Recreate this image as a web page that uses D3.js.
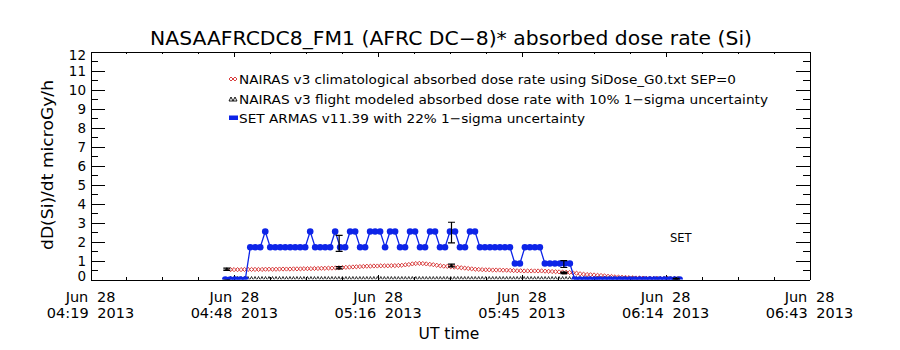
<!DOCTYPE html>
<html>
<head>
<meta charset="utf-8">
<script src="https://d3js.org/d3.v7.min.js"></script>
<style>
body { margin: 0; background: #fff; }
text { font-family: "DejaVu Sans", sans-serif; fill: #000; }
.axis path, .axis line { stroke: #000; stroke-width: 1; shape-rendering: crispEdges; }
</style>
</head>
<body>
<script>
var w = 900,
    h = 350;

// time axis: start / end of the plot window and the labelled ticks
var xStart = '2013-06-28 04:19:12',
    xEnd   = '2013-06-28 06:43:12';
var xTickTimes = ['2013-06-28 04:19:12', '2013-06-28 04:48:00', '2013-06-28 05:16:48',
                  '2013-06-28 05:45:36', '2013-06-28 06:14:24', '2013-06-28 06:43:12'];
var xTickLabels = [['Jun 28', '04:19 2013'], ['Jun 28', '04:48 2013'], ['Jun 28', '05:16 2013'],
                   ['Jun 28', '05:45 2013'], ['Jun 28', '06:14 2013'], ['Jun 28', '06:43 2013']];
var yTicks = [0, 1, 2, 3, 4, 5, 6, 7, 8, 9, 10, 11, 12];

// SET ARMAS v11.39, one sample per minute
var setStart = '2013-06-28 04:46:12',
    setStep = 60; // seconds
var setValues = [0, 0, 0, 0, 0,
                 1.70, 1.70, 1.70, 2.53, 1.70, 1.70, 1.70, 1.70, 1.70, 1.70, 1.70, 1.70,
                 2.53, 1.70, 1.70, 1.70, 1.70, 2.53, 1.70, 1.70, 2.53, 2.53, 1.70, 1.70,
                 2.53, 2.53, 2.53, 1.70, 2.53, 2.53, 1.70, 1.70, 2.53, 2.53, 1.70, 1.70,
                 2.53, 2.53, 1.70, 1.70, 2.53, 2.53, 1.70, 1.70, 2.53, 2.53, 1.70, 1.70,
                 1.70, 1.70, 1.70, 1.70, 1.70, 0.84, 0.84, 1.70, 1.70, 1.70, 1.70,
                 0.84, 0.84, 0.84, 0.84, 0.84, 0.84,
                 0, 0, 0, 0, 0, 0, 0, 0, 0, 0, 0, 0, 0, 0, 0, 0, 0, 0, 0, 0, 0, 0];

// NAIRAS v3 climatological dose rate, one sample every 42 s
var climStart = '2013-06-28 04:47:15',
    climStep = 42; // seconds
var climValues = [0.52, 0.52, 0.52, 0.52, 0.53, 0.53, 0.53, 0.53, 0.53, 0.53,
                  0.54, 0.54, 0.54, 0.54, 0.55, 0.55, 0.55, 0.55, 0.56, 0.56,
                  0.56, 0.57, 0.57, 0.57, 0.58, 0.58, 0.59, 0.59, 0.60, 0.60,
                  0.61, 0.62, 0.63, 0.64, 0.65, 0.66, 0.67, 0.68, 0.69, 0.70,
                  0.70, 0.71, 0.71, 0.72, 0.72, 0.72, 0.73, 0.73, 0.74, 0.75,
                  0.77, 0.79, 0.82, 0.84, 0.85, 0.84, 0.82, 0.80, 0.78, 0.75,
                  0.72, 0.70, 0.69, 0.67, 0.65, 0.64, 0.62, 0.60, 0.58, 0.56,
                  0.54, 0.53, 0.52, 0.51, 0.51, 0.50, 0.50, 0.50, 0.49, 0.49,
                  0.48, 0.47, 0.46, 0.46, 0.45, 0.45, 0.45, 0.45, 0.45, 0.45,
                  0.44, 0.43, 0.42, 0.41, 0.40, 0.39, 0.38, 0.37, 0.35, 0.33,
                  0.30, 0.28, 0.26, 0.25, 0.24, 0.22, 0.21, 0.19, 0.17, 0.16,
                  0.14, 0.13, 0.12, 0.11, 0.10, 0.09, 0.08, 0.08, 0.07, 0.06,
                  0.06, 0.05, 0.05, 0.04, 0.04, 0.04, 0.03, 0.03, 0.03];

// NAIRAS v3 flight modeled points (10% sigma) and SET averages (22% sigma)
var flightTimes = ['2013-06-28 04:46:30', '2013-06-28 05:09:00', '2013-06-28 05:31:30',
                   '2013-06-28 05:54:00', '2013-06-28 06:16:30'];
var flightValues = [0.54, 0.62, 0.74, 0.35, 0.05];
var setErrValues = [0, 1.90, 2.47, 0.81, 0];
var flightSigma = 0.10,
    setSigma = 0.22;

var legendLabels = ['NAIRAS v3 climatological absorbed dose rate using SiDose_G0.txt SEP=0',
                    'NAIRAS v3 flight modeled absorbed dose rate with 10% 1\u2212sigma uncertainty',
                    'SET ARMAS v11.39 with 22% 1\u2212sigma uncertainty'];

var red = '#d42a2a',
    blue = '#0d24e8';

var parseT = d3.utcParse('%Y-%m-%d %H:%M:%S');

var setData = setValues.map(function(v, i) {
  return { t: new Date(parseT(setStart).getTime() + i * setStep * 1000), v: v };
});
var climData = climValues.map(function(v, i) {
  return { t: new Date(parseT(climStart).getTime() + i * climStep * 1000), v: v };
});
var flightData = flightTimes.map(function(t, i) {
  return { t: parseT(t), v: flightValues[i], s: setErrValues[i] };
});

var svg = d3.select('body')
            .append('svg')
            .attr('width', w)
            .attr('height', h);

svg.append('rect').attr('width', w).attr('height', h).attr('fill', '#fff');

var pLeft = 90.5, pRight = 809.5, pTop = 51.5, pBottom = 279.5;

var x = d3.scaleUtc()
          .domain([parseT(xStart), parseT(xEnd)])
          .range([pLeft, pRight]);

var y = d3.scaleLinear()
          .domain([0, 12])
          .range([pBottom, pTop]);

var majorX = xTickTimes.map(parseT);
var minorX = [];
for (var i = 0; i < majorX.length - 1; i++) {
  var a = majorX[i].getTime(), b = majorX[i + 1].getTime();
  for (var j = 1; j < 4; j++) minorX.push(new Date(a + (b - a) * j / 4));
}
var minorY = d3.range(0.5, 12, 1);

// box with ticks on all four sides
function addAxis(gen, tx, ty) {
  svg.append('g').attr('class', 'axis')
     .attr('transform', 'translate(' + tx + ',' + ty + ')')
     .call(gen);
}
addAxis(d3.axisBottom(x).tickValues(majorX).tickSizeInner(-5).tickSizeOuter(0).tickFormat(''), 0, pBottom);
addAxis(d3.axisBottom(x).tickValues(minorX).tickSizeInner(-2.5).tickSizeOuter(0).tickFormat(''), 0, pBottom);
addAxis(d3.axisTop(x).tickValues(majorX).tickSizeInner(-5).tickSizeOuter(0).tickFormat(''), 0, pTop);
addAxis(d3.axisTop(x).tickValues(minorX).tickSizeInner(-2.5).tickSizeOuter(0).tickFormat(''), 0, pTop);
addAxis(d3.axisLeft(y).tickValues(yTicks).tickSizeInner(-14).tickSizeOuter(0).tickFormat(''), pLeft, 0);
addAxis(d3.axisLeft(y).tickValues(minorY).tickSizeInner(-7).tickSizeOuter(0).tickFormat(''), pLeft, 0);
addAxis(d3.axisRight(y).tickValues(yTicks).tickSizeInner(-14).tickSizeOuter(0).tickFormat(''), pRight, 0);
addAxis(d3.axisRight(y).tickValues(minorY).tickSizeInner(-7).tickSizeOuter(0).tickFormat(''), pRight, 0);
svg.selectAll('.axis text').remove();

// y tick labels (end labels pulled inside the box like the original)
svg.selectAll('text.ylab')
   .data(yTicks)
   .enter()
   .append('text')
   .attr('class', 'ylab')
   .attr('x', 86)
   .attr('y', function(d) {
      var off = d === 12 ? 3.5 : (d === 0 ? -3.5 : 0);
      return y(d) + off + 5;
   })
   .attr('text-anchor', 'end')
   .style('font-size', '13.5px')
   .text(function(d) { return d; });

// x tick labels, two lines each
var xl = svg.selectAll('text.xlab')
            .data(majorX)
            .enter()
            .append('text')
            .attr('class', 'xlab')
            .attr('text-anchor', 'middle')
            .style('font-size', '14.5px')
            .style('word-spacing', '4px');
xl.append('tspan')
  .attr('x', function(d) { return x(d); })
  .attr('y', 302)
  .text(function(d, i) { return xTickLabels[i][0]; });
xl.append('tspan')
  .attr('x', function(d) { return x(d); })
  .attr('y', 318)
  .text(function(d, i) { return xTickLabels[i][1]; });

// titles
svg.append('text')
   .attr('x', 150).attr('y', 45)
   .attr('textLength', 602).attr('lengthAdjust', 'spacingAndGlyphs')
   .style('font-size', '19px')
   .text('NASAAFRCDC8_FM1 (AFRC DC\u22128)* absorbed dose rate (Si)');

svg.append('text')
   .attr('x', 449).attr('y', 339)
   .attr('text-anchor', 'middle')
   .style('font-size', '15.5px')
   .text('UT time');

svg.append('text')
   .attr('transform', 'translate(53,165) rotate(-90)')
   .attr('text-anchor', 'middle')
   .attr('textLength', 170).attr('lengthAdjust', 'spacingAndGlyphs')
   .style('font-size', '15px')
   .text('dD(Si)/dt microGy/h');

// plot area clip
svg.append('clipPath').attr('id', 'clip')
   .append('rect')
   .attr('x', pLeft).attr('y', pTop)
   .attr('width', pRight - pLeft).attr('height', pBottom - pTop);

var plot = svg.append('g').attr('clip-path', 'url(#clip)');

// flight model triangles sitting on the zero line, at the NAIRAS cadence
plot.selectAll('path.tri0')
    .data(climData)
    .enter()
    .append('path')
    .attr('class', 'tri0')
    .attr('d', function(d) {
       var cx = x(d.t), cy = y(0);
       return 'M' + (cx - 1.5) + ',' + cy + 'L' + cx + ',' + (cy - 3) + 'L' + (cx + 1.5) + ',' + cy;
    })
    .attr('fill', 'none')
    .attr('stroke', '#000')
    .attr('stroke-width', 0.8);

// NAIRAS climatological diamonds
plot.selectAll('path.clim')
    .data(climData)
    .enter()
    .append('path')
    .attr('class', 'clim')
    .attr('d', function(d) {
       var cx = x(d.t), cy = y(d.v), r = 2.1;
       return 'M' + cx + ',' + (cy - r) + 'L' + (cx + r) + ',' + cy + 'L' + cx + ',' + (cy + r) + 'L' + (cx - r) + ',' + cy + 'Z';
    })
    .attr('fill', 'none')
    .attr('stroke', red)
    .attr('stroke-width', 0.9);

// SET ARMAS line + filled circles
var line = d3.line()
             .x(function(d) { return x(d.t); })
             .y(function(d) { return y(d.v); });

plot.append('path')
    .datum(setData)
    .attr('d', line)
    .attr('fill', 'none')
    .attr('stroke', blue)
    .attr('stroke-width', 1.3);

plot.selectAll('circle.set')
    .data(setData)
    .enter()
    .append('circle')
    .attr('class', 'set')
    .attr('cx', function(d) { return x(d.t); })
    .attr('cy', function(d) { return y(d.v); })
    .attr('r', 3.3)
    .attr('fill', blue);

// error bars with caps
function errBar(cx, v, sig, half) {
  var y1 = y(v * (1 - sig)), y2 = y(v * (1 + sig));
  return 'M' + cx + ',' + y1 + 'L' + cx + ',' + y2 +
         'M' + (cx - half) + ',' + y1 + 'L' + (cx + half) + ',' + y1 +
         'M' + (cx - half) + ',' + y2 + 'L' + (cx + half) + ',' + y2;
}

plot.selectAll('path.seterr')
    .data(flightData)
    .enter()
    .append('path')
    .attr('class', 'seterr')
    .attr('d', function(d) { return errBar(x(d.t), d.s, setSigma, 3.5); })
    .attr('fill', 'none')
    .attr('stroke', '#000')
    .attr('stroke-width', 1.2);

plot.selectAll('path.flerr')
    .data(flightData)
    .enter()
    .append('path')
    .attr('class', 'flerr')
    .attr('d', function(d) { return errBar(x(d.t), d.v, flightSigma, 3.5); })
    .attr('fill', 'none')
    .attr('stroke', '#000')
    .attr('stroke-width', 1.3);

plot.selectAll('path.fltri')
    .data(flightData)
    .enter()
    .append('path')
    .attr('class', 'fltri')
    .attr('d', function(d) {
       var cx = x(d.t), cy = y(d.v);
       return 'M' + (cx - 1.5) + ',' + (cy + 1) + 'L' + cx + ',' + (cy - 1.5) + 'L' + (cx + 1.5) + ',' + (cy + 1) + 'Z';
    })
    .attr('fill', 'none')
    .attr('stroke', '#000')
    .attr('stroke-width', 0.8);

// legend
var legY = [84, 104, 123];
var legLen = [497, 529, 346];
legendLabels.forEach(function(t, i) {
  svg.append('text')
     .attr('x', 239).attr('y', legY[i])
     .attr('textLength', legLen[i]).attr('lengthAdjust', 'spacingAndGlyphs')
     .style('font-size', '13px')
     .text(t);
});
[231, 235].forEach(function(cx) {
  var cy = legY[0] - 5, r = 2;
  svg.append('path')
     .attr('d', 'M' + cx + ',' + (cy - r) + 'L' + (cx + r) + ',' + cy + 'L' + cx + ',' + (cy + r) + 'L' + (cx - r) + ',' + cy + 'Z')
     .attr('fill', 'none').attr('stroke', red).attr('stroke-width', 0.9);
  var ty = legY[1] - 5;
  svg.append('path')
     .attr('d', 'M' + (cx - 2) + ',' + (ty + 2) + 'L' + cx + ',' + (ty - 2) + 'L' + (cx + 2) + ',' + (ty + 2) + 'Z')
     .attr('fill', 'none').attr('stroke', '#000').attr('stroke-width', 0.9);
});
svg.append('rect')
   .attr('x', 229).attr('y', legY[2] - 7.5)
   .attr('width', 9).attr('height', 4.5)
   .attr('fill', blue);

svg.append('text')
   .attr('x', 670).attr('y', 242)
   .style('font-size', '11.5px')
   .text('SET');
</script>
</body>
</html>
